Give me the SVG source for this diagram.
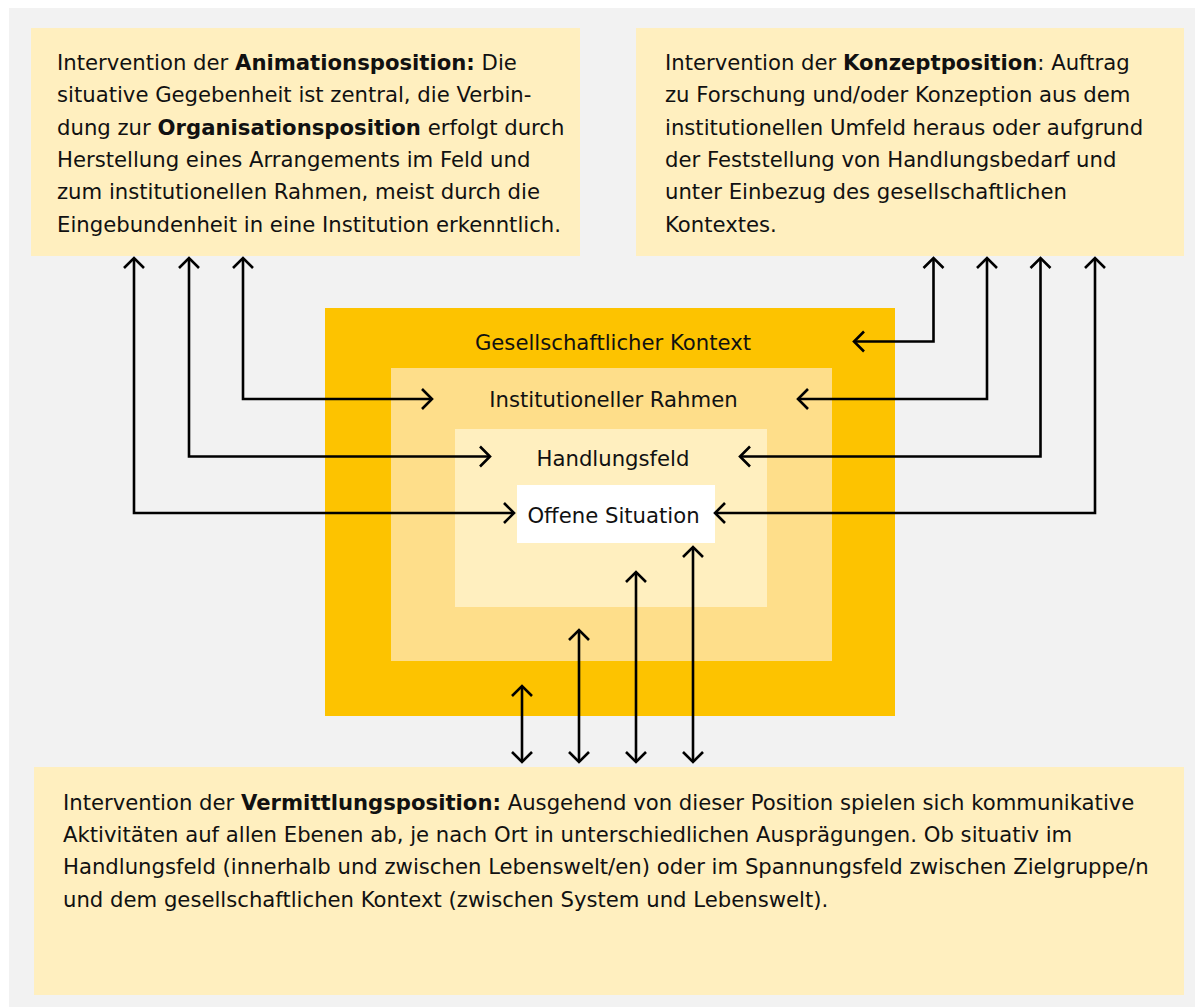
<svg xmlns="http://www.w3.org/2000/svg" width="1195" height="1007" viewBox="0 0 1195 1007">
<style>
.t{font-family:"DejaVu Sans","Liberation Sans",sans-serif;font-size:21.2px;fill:#111}
.c{text-anchor:middle}
.b{font-weight:bold}
.box{fill:#ffefbf}
.ln{fill:none;stroke:#000;stroke-width:2.6;marker-start:url(#ah);marker-end:url(#ah)}
</style>
<defs>
<marker id="ah" markerUnits="userSpaceOnUse" viewBox="-14 -14 16 28" markerWidth="16" markerHeight="28" refX="0" refY="0" orient="auto-start-reverse" overflow="visible">
<path d="M-10,-10 L0,0 L-10,10" fill="none" stroke="#000" stroke-width="2.6"/>
</marker>
</defs>
<rect x="9" y="8" width="1186" height="999" fill="#f2f2f2"/>
<g id="nested">
<rect id="kontext" x="325" y="308" width="570" height="408" fill="#fdc300"/>
<rect id="rahmen" x="391" y="368" width="441" height="293" fill="#fede8a"/>
<rect id="feld" x="455" y="429" width="312" height="178" fill="#ffefbf"/>
<rect id="situation" x="517" y="485" width="198" height="58" fill="#ffffff"/>
<text class="t c" x="613" y="350">Gesellschaftlicher Kontext</text>
<text class="t c" x="613.5" y="407">Institutioneller Rahmen</text>
<text class="t c" x="613" y="465.5">Handlungsfeld</text>
<text class="t c" x="613.5" y="522.5">Offene Situation</text>
</g>
<g id="animation">
<rect class="box" x="31" y="28" width="549" height="228"/>
<text class="t" x="57" y="69.5">Intervention der <tspan class="b">Animationsposition:</tspan> Die</text>
<text class="t" x="57" y="102">situative Gegebenheit ist zentral, die Verbin-</text>
<text class="t" x="57" y="134.5">dung zur <tspan class="b">Organisationsposition</tspan> erfolgt durch</text>
<text class="t" x="57" y="166.8">Herstellung eines Arrangements im Feld und</text>
<text class="t" x="57" y="199.2">zum institutionellen Rahmen, meist durch die</text>
<text class="t" x="57" y="231.5">Eingebundenheit in eine Institution erkenntlich.</text>
</g>
<g id="konzept">
<rect class="box" x="636" y="28" width="548" height="228"/>
<text class="t" x="665" y="69.5">Intervention der <tspan class="b">Konzeptposition</tspan>: Auftrag</text>
<text class="t" x="665" y="102">zu Forschung und/oder Konzeption aus dem</text>
<text class="t" x="665" y="134.5">institutionellen Umfeld heraus oder aufgrund</text>
<text class="t" x="665" y="166.8">der Feststellung von Handlungsbedarf und</text>
<text class="t" x="665" y="199.2">unter Einbezug des gesellschaftlichen</text>
<text class="t" x="665" y="231.5">Kontextes.</text>
</g>
<g id="vermittlung">
<rect class="box" x="34" y="767" width="1150" height="228"/>
<text class="t" x="63" y="809.5">Intervention der <tspan class="b">Vermittlungsposition:</tspan> Ausgehend von dieser Position spielen sich kommunikative</text>
<text class="t" x="63" y="841.8">Aktivitäten auf allen Ebenen ab, je nach Ort in unterschiedlichen Ausprägungen. Ob situativ im</text>
<text class="t" x="63" y="874.2">Handlungsfeld (innerhalb und zwischen Lebenswelt/en) oder im Spannungsfeld zwischen Zielgruppe/n</text>
<text class="t" x="63" y="906.5">und dem gesellschaftlichen Kontext (zwischen System und Lebenswelt).</text>
</g>
<g id="connectors">
<path class="ln" d="M134,258 V513 H514"/>
<path class="ln" d="M189,258 V456.5 H490"/>
<path class="ln" d="M243,258 V399 H432"/>
<path class="ln" d="M933.5,258 V341.5 H854"/>
<path class="ln" d="M987,258 V399 H798"/>
<path class="ln" d="M1040.5,258 V456.5 H740"/>
<path class="ln" d="M1095,258 V513 H715"/>
<path class="ln" d="M522,762 V686"/>
<path class="ln" d="M579,762 V630"/>
<path class="ln" d="M636,762 V572"/>
<path class="ln" d="M693,762 V547"/>
</g>
</svg>
